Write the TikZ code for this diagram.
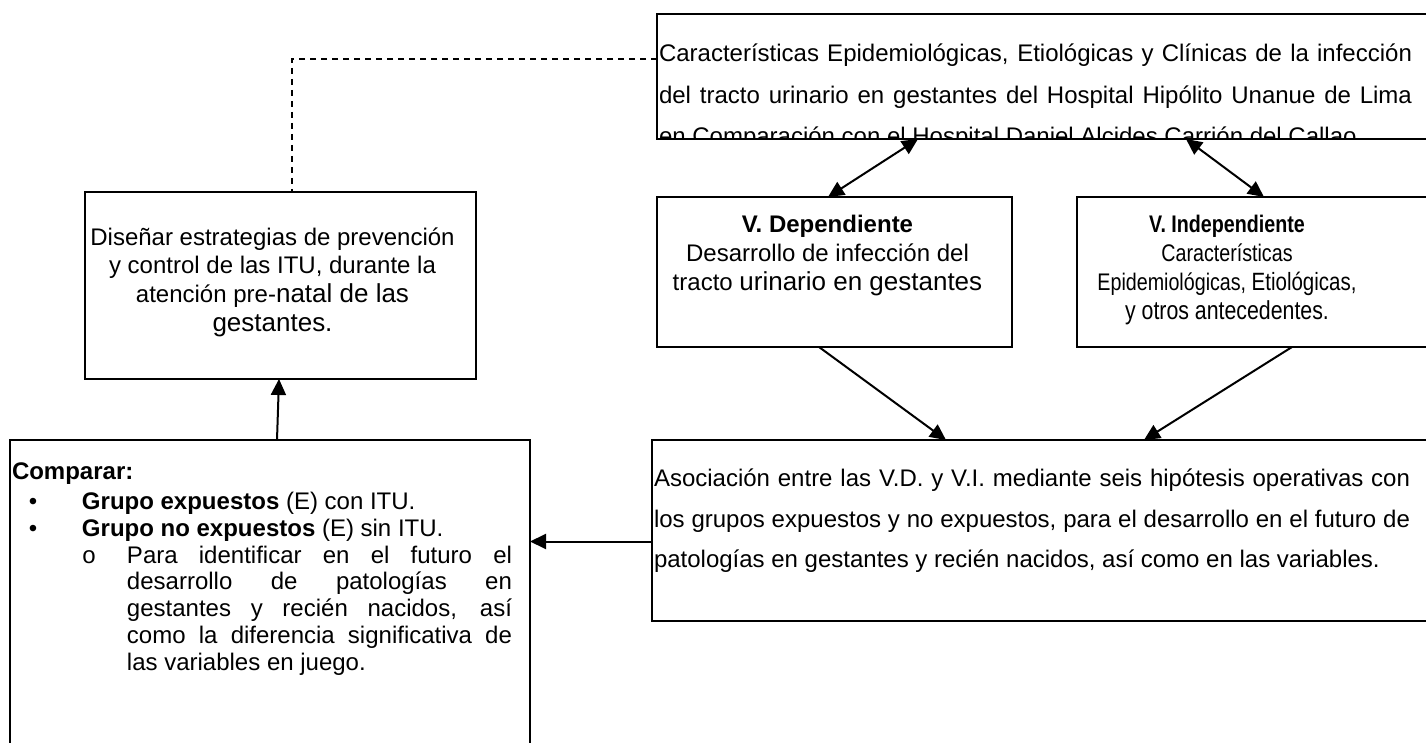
\documentclass[tikz,border=0pt]{standalone}
\usepackage{fontspec}
\setmainfont{Liberation Sans}
\newfontfamily\monofnt{Liberation Mono}
\newfontfamily\estrecha[FakeStretch=0.82]{Liberation Sans}
\usetikzlibrary{calc}
\usetikzlibrary{arrows.meta}
\newcommand\grande{\fontsize{13}{15}\selectfont}
\tikzset{bx/.style={draw=black, line width=0.7pt, inner sep=0pt, outer sep=0pt, anchor=north west},
        tx/.style={inner sep=0pt, outer sep=0pt, font=\fontsize{12}{14.5}\selectfont},
        ar/.style={line width=1pt, -{Triangle[length=8pt, width=7.5pt]}},
        dar/.style={line width=1pt, {Triangle[length=8pt, width=7.5pt]}-{Triangle[length=8pt, width=7.5pt]}}}

\begin{document}
\begin{tikzpicture}[x=0.5pt, y=-0.5pt]
    \path[use as bounding box, clip] (0,0) rectangle (1426,743);

    % boxes
    \node[bx, minimum width=400pt, minimum height=62.5pt] (titulo) at (657,14) {};
    \node[bx, minimum width=195.5pt, minimum height=93.5pt] (disenar) at (85,192) {};
    \node[bx, minimum width=260pt, minimum height=170pt] (comparar) at (10,440) {};
    \node[bx, minimum width=177.5pt, minimum height=75pt] (vdep) at (657,197) {};
    \node[bx, minimum width=200pt, minimum height=75pt] (vindep) at (1077,197) {};
    \node[bx, minimum width=400pt, minimum height=90.5pt] (asoc) at (652,440) {};

    % title text, cut off by the box
    \begin{scope}
      \clip (titulo.south west) rectangle (titulo.north east);
      \node[tx, anchor=north west, text width=376.5pt, align=justify, font=\fontsize{12}{20.75}\selectfont] (tituloTxt) at ($(titulo.north west)+(2,24)$)
        {\parfillskip=0pt\rule{0pt}{12pt}Características Epidemiológicas, Etiológicas y Clínicas de la infección\linebreak
         del tracto urinario en gestantes del Hospital Hipólito Unanue de Lima\linebreak
         en Comparación con el Hospital Daniel Alcides Carrión del Callao};
    \end{scope}

    \node[tx, anchor=north, align=center] (disenarTxt) at ($(disenar.north)+(-8,29)$)
      {\rule{0pt}{12pt}Diseñar estrategias de prevención\\ y control de las ITU, durante la\\ atención pre-{\grande natal de las}\\ {\grande gestantes.}};

    \node[tx, anchor=north, align=center] (vdepTxt) at ($(vdep.north)+(-7,12)$)
      {\rule{0pt}{12pt}\textbf{V. Dependiente}\\ Desarrollo de infección del\\ tracto {\grande urinario en gestantes}};

    \node[tx, anchor=north, align=center, font=\estrecha\fontsize{12}{14.5}\selectfont] (vindepTxt) at ($(vindep.north west)+(150,12)$)
      {\rule{0pt}{12pt}\textbf{V. Independiente}\\ Características\\ Epidemiológicas, {\fontsize{12.5}{14.5}\selectfont Etiológicas,}\\ {\grande y otros antecedentes.}};

    \node[tx, anchor=north west, text width=378pt, align=justify, font=\fontsize{12}{20.25}\selectfont] (asocTxt) at ($(asoc.north west)+(2,23)$)
      {\rule{0pt}{12pt}Asociación entre las V.D. y V.I. mediante seis hipótesis operativas con\linebreak
       los grupos expuestos y no expuestos, para el desarrollo en el futuro de\linebreak
       patologías en gestantes y recién nacidos, así como en las variables.};

    \node[tx, anchor=north west, text width=250pt, align=justify, font=\fontsize{12}{13.35}\selectfont] (compararTxt) at ($(comparar.north west)+(2,16)$)
      {\parindent=0pt\rule{0pt}{12pt}\textbf{Comparar:}\par\vspace{1.6pt}
       \leftskip=35pt\noindent\llap{\makebox[35pt][l]{\hspace{8.4pt}\textbullet}}\textbf{Grupo expuestos} (E) con ITU.\par
       \leftskip=35pt\noindent\llap{\makebox[35pt][l]{\hspace{8.4pt}\textbullet}}\textbf{Grupo no expuestos} (E) sin ITU.\par
       \leftskip=57.5pt\noindent\llap{\makebox[22.5pt][l]{\monofnt o}}Para identificar en el futuro el\linebreak
       desarrollo de patologías en\linebreak gestantes y recién nacidos, así\linebreak
       como la diferencia significativa de\linebreak las variables en juego.\par};

    % connectors
    \draw[line width=0.6pt, dash pattern=on 3pt off 2.5pt] ($(titulo.north west)+(0,45)$) -| ($(disenar.north)+(11.5,0)$);
    \draw[ar] ($(comparar.north)+(7,0)$) -- ($(disenar.south)+(-1.5,0)$);
    \coordinate (p) at ($(asoc.west)+(0,11)$);
    \draw[ar] (p) -- (p -| comparar.east);

    \foreach \a/\b/\c/\d in {titulo/261/vdep/171, titulo/529/vindep/187}
      \draw[dar] ($(\a.south west)+(\b,0)$) -- ($(\c.north west)+(\d,0)$);
    \foreach \a/\b/\d in {vdep/162/294, vindep/215/492}
      \draw[ar] ($(\a.south west)+(\b,0)$) -- ($(asoc.north west)+(\d,0)$);
\end{tikzpicture}
\end{document}
